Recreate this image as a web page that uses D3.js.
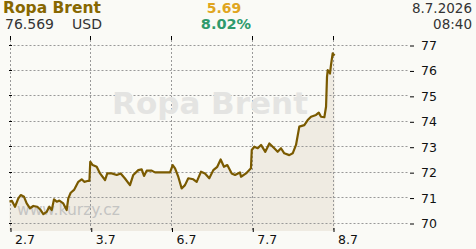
<!DOCTYPE html>
<html><head><meta charset="utf-8">
<script src="https://cdn.jsdelivr.net/npm/d3@7"></script>
<style>
html,body{margin:0;padding:0;background:#fafaf6;}
svg{display:block;font-family:"DejaVu Sans",Verdana,sans-serif;}
</style></head>
<body><svg id="c" width="476" height="249"></svg>
<script>
// ---- data ----
const dayLabels = ["2.7","3.7","6.7","7.7","8.7"];
const yTicks = [70,71,72,73,74,75,76,77];
// position in trading days (0 = 2.7 ... 4 = 8.7)
const times = [0,0.031,0.068,0.109,0.139,0.180,0.213,0.254,0.295,0.344,0.386,0.419,0.461,0.493,0.523,0.551,0.585,0.617,0.666,0.708,0.728,0.758,0.799,0.852,0.894,0.926,0.976,0.99,
 1.0,1.030,1.080,1.121,1.183,1.211,1.266,1.328,1.377,1.430,1.492,1.533,1.595,1.637,1.666,1.699,1.761,1.802,1.905,1.988,
 2.021,2.050,2.090,2.132,2.173,2.214,2.276,2.318,2.372,2.421,2.474,2.524,2.573,2.615,2.656,2.697,2.752,2.793,2.854,2.867,2.929,2.99,
 3.0,3.032,3.074,3.115,3.168,3.218,3.279,3.321,3.362,3.403,3.465,3.507,3.548,3.589,3.651,3.693,3.734,3.796,3.830,3.858,3.899,3.920,3.932,3.941,3.969,3.981,4.002,4.026];
const prices = [70.82,70.85,70.62,70.95,71.08,71.01,70.75,70.56,70.65,70.62,70.49,70.33,70.42,70.62,70.49,70.91,70.82,70.86,70.75,70.49,70.95,71.17,71.28,71.60,71.70,71.60,71.64,71.64,
 72.39,72.26,72.19,71.93,71.67,71.93,71.93,71.87,71.93,71.73,71.47,71.87,72.06,72.09,71.83,72.04,72.04,71.97,71.97,71.97,
 72.26,72.13,71.80,71.34,71.47,71.74,71.70,71.60,72.00,71.93,71.74,72.06,72.19,72.48,72.19,72.26,71.93,71.87,71.97,71.80,71.93,72.13,
 72.85,72.98,72.92,73.05,72.78,73.11,72.92,72.78,72.92,72.72,72.65,72.72,73.05,73.77,73.83,74.03,74.16,74.23,74.32,74.16,74.14,74.55,75.73,75.99,75.86,76.19,76.65,76.569];
const title = "Ropa Brent";
const lastPrice = "76.569";
const currency = "USD";
const change = "5.69";
const changePct = "8.02%";
const dateStr = "8.7.2026";
const timeStr = "08:40";
const site = "www.kurzy.cz";

const data = times.map((t,i)=>({t, v:prices[i]}));

const svg = d3.select("#c");
const x = d3.scaleLinear().domain([0,4]).range([9.5,332.5]);
const y = d3.scaleLinear().domain([70,77]).range([222.5,44.5]);
const plotBottom = 231, plotTop = 40, plotRight = 408;

svg.append("rect").attr("width",476).attr("height",249).attr("fill","#fafaf6");

// area
svg.append("path").datum(data)
  .attr("fill","#efebe2")
  .attr("d", d3.area().x(d=>x(d.t)).y0(plotBottom).y1(d=>y(d.v)));

// grid
const grid = svg.append("g").attr("stroke","#999").attr("stroke-dasharray","2,2").attr("stroke-width",1);
grid.selectAll("line.h").data(yTicks).join("line")
  .attr("x1",9.5).attr("x2",plotRight).attr("y1",d=>Math.round(y(d))+0.5).attr("y2",d=>Math.round(y(d))+0.5);
grid.selectAll("line.v").data(d3.range(dayLabels.length)).join("line")
  .attr("y1",plotTop).attr("y2",plotBottom).attr("x1",d=>Math.round(x(d))+0.5).attr("x2",d=>Math.round(x(d))+0.5);

// small ticks left and top
const tk = svg.append("g").attr("stroke","#000").attr("stroke-width",1);
tk.selectAll("line.l").data(yTicks).join("line")
  .attr("x1",9).attr("x2",12).attr("y1",d=>Math.round(y(d))+0.5).attr("y2",d=>Math.round(y(d))+0.5);
tk.selectAll("line.t").data(d3.range(dayLabels.length)).join("line")
  .attr("y1",36).attr("y2",40).attr("x1",d=>Math.round(x(d))+0.5).attr("x2",d=>Math.round(x(d))+0.5);

// watermarks
svg.append("text").attr("x",210).attr("y",114).attr("text-anchor","middle")
  .attr("font-size",31).attr("font-weight","bold").attr("fill","#e4e4e2").text(title);
svg.append("text").attr("x",17).attr("y",215)
  .attr("font-size",15.5).attr("fill","#c4c4c2").text(site);

// line
svg.append("path").datum(data)
  .attr("fill","none").attr("stroke","#7a5a00").attr("stroke-width",2.2).attr("stroke-linejoin","round")
  .attr("d", d3.line().x(d=>x(d.t)).y(d=>y(d.v)));

// right axis
const ya = svg.append("g").attr("transform",`translate(${plotRight+2},0.5)`)
  .call(d3.axisRight(d3.scaleLinear().domain(y.domain()).range([Math.round(y.range()[0]),Math.round(y.range()[1])])).tickValues(yTicks).tickSize(4).tickPadding(7).tickFormat(d3.format("d")));
ya.select(".domain").remove();
ya.selectAll("text").attr("font-size",12.5).attr("fill","#111").attr("font-family","DejaVu Sans");
ya.selectAll("line").attr("stroke","#000");

// bottom axis
const xa = svg.append("g").attr("transform",`translate(0.5,228)`)
  .call(d3.axisBottom(d3.scaleLinear().domain([0,4]).range([Math.round(x(0)),Math.round(x(4))])).tickValues(d3.range(5)).tickSize(4).tickPadding(3.5).tickFormat(i=>dayLabels[i]));
xa.select(".domain").remove();
xa.selectAll("text").attr("font-size",12.5).attr("fill","#111").attr("text-anchor","start").attr("dx",4).attr("font-family","DejaVu Sans");
xa.selectAll("line").attr("stroke","#000");

// header
svg.append("text").attr("x",3).attr("y",13).attr("font-size",15.5).attr("font-weight","bold").attr("fill","#876700").text(title);
svg.append("text").attr("x",5).attr("y",29).attr("font-size",14).attr("fill","#333").text(lastPrice);
svg.append("text").attr("x",72).attr("y",29).attr("font-size",14).attr("fill","#333").text(currency);
svg.append("text").attr("x",224).attr("y",12.5).attr("text-anchor","middle").attr("font-size",14).attr("font-weight","bold").attr("fill","#e0a520").text(change);
svg.append("text").attr("x",226).attr("y",29).attr("text-anchor","middle").attr("font-size",14.5).attr("font-weight","bold").attr("fill","#2f9a6c").text(changePct);
svg.append("text").attr("x",472).attr("y",12.5).attr("text-anchor","end").attr("font-size",13.5).attr("fill","#333").text(dateStr);
svg.append("text").attr("x",472).attr("y",29).attr("text-anchor","end").attr("font-size",13.5).attr("fill","#333").text(timeStr);
</script></body></html>
